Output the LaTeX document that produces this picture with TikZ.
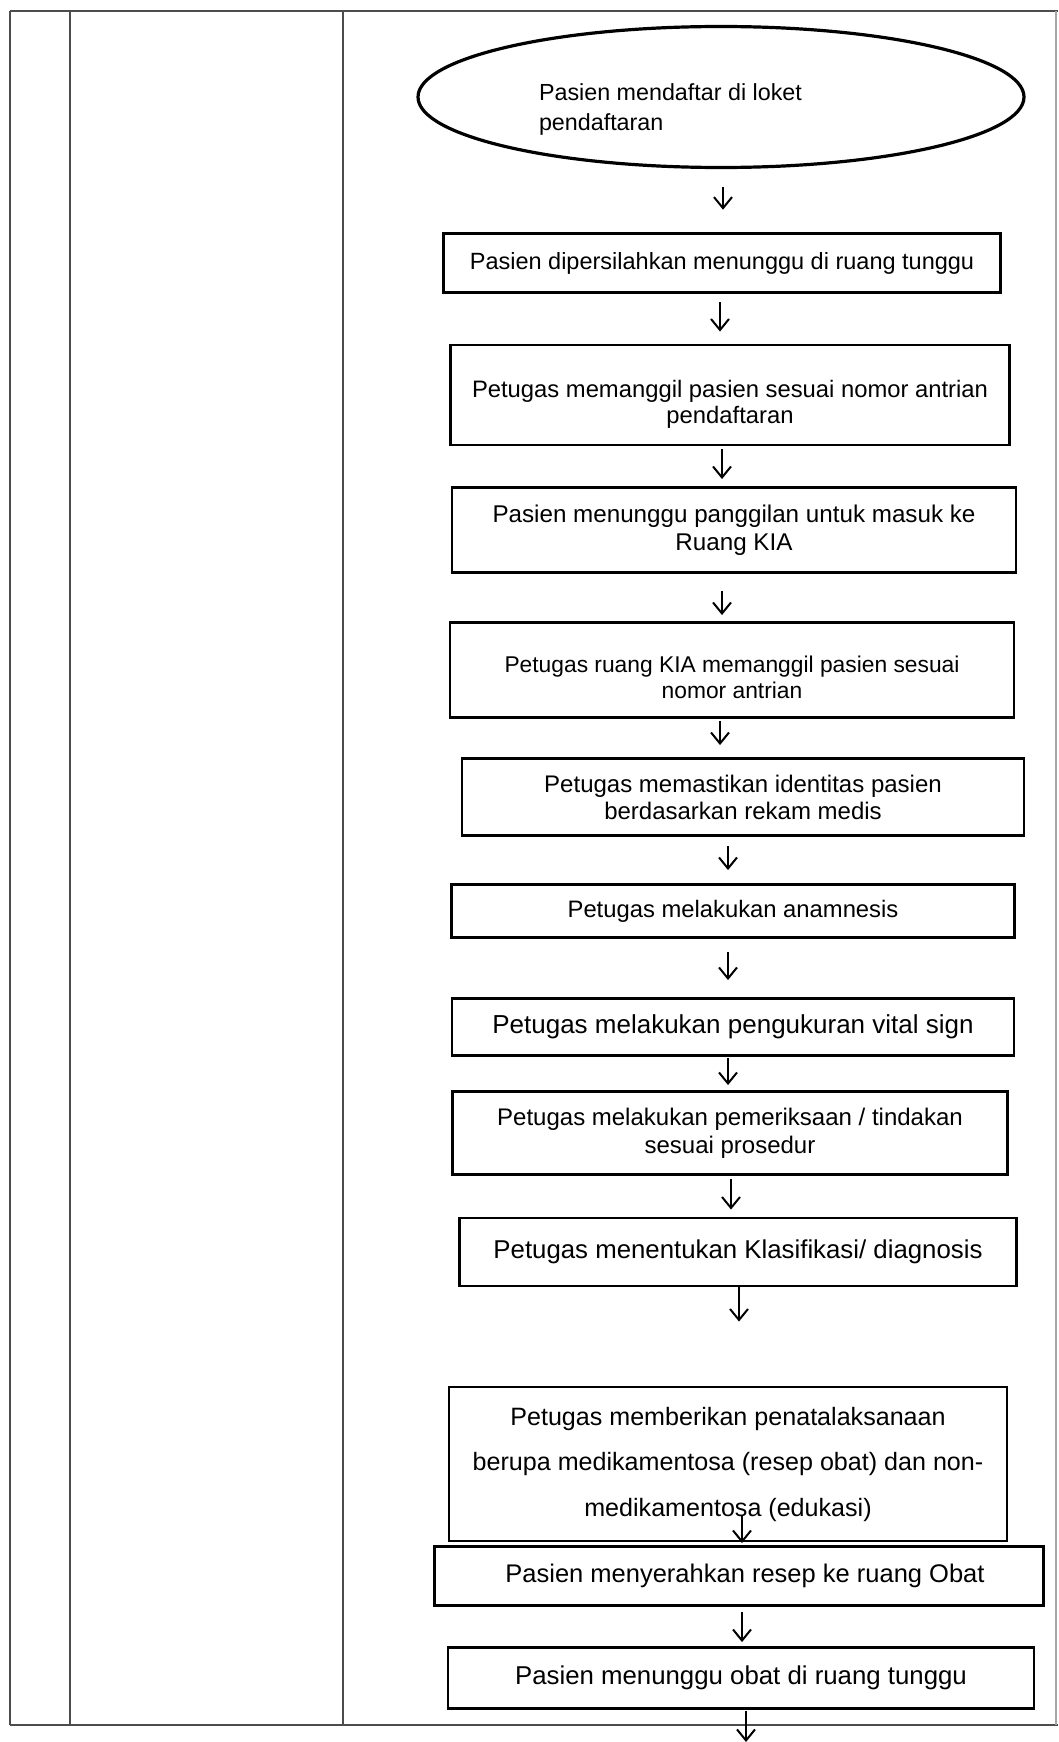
\documentclass[tikz,border=0pt]{standalone}
\usepackage{fontspec}
\setmainfont{Liberation Sans}
\usetikzlibrary{arrows.meta,shapes.geometric}
\newcommand\lowtext[2]{\raisebox{-#1}[\height][\depth]{\begin{tabular}{@{}c@{}}#2\end{tabular}}}
\tikzset{
  tbl/.style={draw=black!70, line width=1.8pt},
  flowbox/.style 2 args={draw, line width=2.9pt, inner sep=0pt, align=center,
    minimum width=#1pt, minimum height=#2pt},
  fs/.style={font=\fontsize{23.5}{26}\selectfont},
  fsb/.style={font=\fontsize{26}{28}\selectfont},
  arr/.style={line width=2pt, -{Straight Barb[length=11pt,width=18pt,line width=2pt]}},
}
\begin{document}
\begin{tikzpicture}[x=1pt,y=-1pt]
\useasboundingbox[fill=white] (0,0) rectangle (1058,1742);
% table frame
\draw[tbl] (10,11) -- (1058,11);
\draw[tbl] (10,1725) -- (1058,1725);
\draw[tbl] (10,11) -- (10,1725);
\draw[tbl] (70,11) -- (70,1725);
\draw[tbl] (343,11) -- (343,1725);
\draw[draw=black!35, line width=1.2pt] (1056,11) -- (1056,1725);

% start ellipse
\node[ellipse, draw, line width=3.2pt, inner sep=0pt, minimum width=606pt, minimum height=141pt] (start) at (721,97)
  {\raisebox{-12pt}[\height][\depth]{\parbox{364pt}{\raggedright\fontsize{23.3}{30}\selectfont Pasien mendaftar di loket\\pendaftaran}}};

\node[flowbox={557}{59}, line width=3.6pt, fs] (b2) at (722,263) {Pasien dipersilahkan menunggu di ruang tunggu};
\node[flowbox={559}{100}, font=\fontsize{23.8}{26}\selectfont] (b3) at (730,395) {\lowtext{10pt}{Petugas memanggil pasien sesuai nomor antrian\\pendaftaran}};
\node[flowbox={564}{85}, font=\fontsize{24.2}{28}\selectfont] (b4) at (734,530) {Pasien menunggu panggilan untuk masuk ke\\Ruang KIA};
\node[flowbox={564}{95}, font=\fontsize{22.8}{26}\selectfont] (b5) at (732,670) {\lowtext{10pt}{Petugas ruang KIA memanggil pasien sesuai\\nomor antrian}};
\node[flowbox={562}{77}, font=\fontsize{24}{27}\selectfont] (b6) at (743,797) {Petugas memastikan identitas pasien\\berdasarkan rekam medis};
\node[flowbox={563}{53}, font=\fontsize{23.8}{26}\selectfont] (b7) at (733,911) {Petugas melakukan anamnesis};
\node[flowbox={562}{57}, fsb] (b8) at (733,1027) {Petugas melakukan pengukuran vital sign};
\node[flowbox={555}{83}, font=\fontsize{24}{28}\selectfont] (b9) at (730,1133) {Petugas melakukan pemeriksaan / tindakan\\sesuai prosedur};
\node[flowbox={557}{68}, font=\fontsize{25.8}{28}\selectfont] (b10) at (738,1252) {Petugas menentukan Klasifikasi/ diagnosis};
\node[flowbox={558}{154}, font=\fontsize{25.1}{45.5}\selectfont] (b11) at (728,1464) {Petugas memberikan penatalaksanaan\\berupa medikamentosa (resep obat) dan non-\\medikamentosa (edukasi)};
\node[flowbox={609}{59}, font=\fontsize{25.5}{28}\selectfont] (b12) at (739,1576) {\hspace*{12pt}Pasien menyerahkan resep ke ruang Obat};
\node[flowbox={586}{61}, font=\fontsize{25.8}{28}\selectfont] (b13) at (741,1678) {Pasien menunggu obat di ruang tunggu};
\coordinate (endpt) at (746,1742);

% connectors
\draw[arr] ([xshift=2pt,yshift=-18pt]start.south) -- ([xshift=1pt,yshift=22pt]b2.north);
\draw[arr] ([xshift=-2pt,yshift=-8pt]b2.south) -- ([xshift=-10pt,yshift=12pt]b3.north);
\draw[arr] ([xshift=-8pt,yshift=-3pt]b3.south) -- ([xshift=-12pt,yshift=7pt]b4.north);
\draw[arr] ([xshift=-12pt,yshift=-17pt]b4.south) -- ([xshift=-10pt,yshift=6pt]b5.north);
\draw[arr] ([xshift=-12pt,yshift=-2pt]b5.south) -- ([xshift=-23pt,yshift=12pt]b6.north);
\draw[arr] ([xshift=-15pt,yshift=-9pt]b6.south) -- ([xshift=-5pt,yshift=13pt]b7.north);
\draw[arr] ([xshift=-5pt,yshift=-13pt]b7.south) -- ([xshift=-5pt,yshift=17pt]b8.north);
\draw[arr] ([xshift=-5pt,yshift=-1pt]b8.south) -- ([xshift=-2pt,yshift=5pt]b9.north);
\draw[arr] ([xshift=1pt,yshift=-3pt]b9.south) -- ([xshift=-7pt,yshift=7pt]b10.north);
\draw[arr] ([xshift=1pt]b10.south) -- ([xshift=11pt,yshift=64pt]b11.north);
\draw[arr] ([xshift=14pt,yshift=26pt]b11.south) -- ([xshift=3pt,yshift=2pt]b12.north);
\draw[arr] ([xshift=3pt,yshift=-5pt]b12.south) -- ([xshift=1pt,yshift=4pt]b13.north);
\draw[arr] ([xshift=5pt,yshift=-1pt]b13.south) -- (endpt);
\end{tikzpicture}
\end{document}
